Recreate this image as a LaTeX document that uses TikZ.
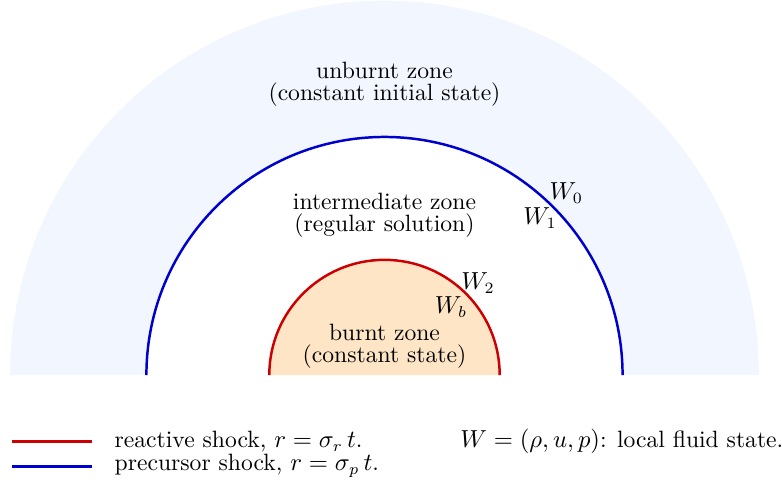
\documentclass[tikz,border=0pt]{standalone}
\usetikzlibrary{positioning}

\definecolor{unburntcol}{RGB}{242,246,254}
\definecolor{burntcol}{RGB}{253,229,197}
\definecolor{reactcol}{RGB}{204,0,0}
\definecolor{precol}{RGB}{0,0,204}

\tikzset{
  every node/.style={font=\fontsize{10.5}{12.6}\selectfont},
  zonelabel/.style={align=center, inner sep=1pt, font=\fontsize{10.5}{9.8}\selectfont},
  shockline/.style={line width=1.1pt},
}

\begin{document}
\begin{tikzpicture}
\useasboundingbox (-6.008,-1.75) rectangle (6.211,5.86);
% zones
\fill[unburntcol] (5.85,0) arc (0:180:5.85) -- cycle;
\fill[white] (3.72,0) arc (0:180:3.72) -- cycle;
\fill[burntcol] (1.80,0) arc (0:180:1.80) -- cycle;
% shocks
\draw[shockline, precol] (3.72,0) arc (0:180:3.72);
\draw[shockline, reactcol] (1.80,0) arc (0:180:1.80);
% labels
\node[zonelabel] (unburnt) at (0,4.55) {unburnt zone\\(constant initial state)};
\node[zonelabel] (inter) at (0,2.5) {intermediate zone\\(regular solution)};
\node[zonelabel] (burnt) at (0,0.45) {burnt zone\\(constant state)};
\node (w0) at (2.84,2.84) {$W_0$};
\node (w1) at (2.43,2.45) {$W_1$};
\node (w2) at (1.46,1.44) {$W_2$};
\node (wb) at (1.04,1.06) {$W_b$};
% legend
\coordinate (ra) at (-5.82,-1.04);
\coordinate (rb) at (-4.57,-1.04);
\coordinate (pa) at (-5.82,-1.43);
\coordinate (pb) at (-4.57,-1.43);
\draw[shockline, reactcol] (ra) -- (rb);
\draw[shockline, precol] (pa) -- (pb);
\node[anchor=west] (reactlab) at (-4.34,-1.04) {reactive shock, $r=\sigma_r\,t$.};
\node[anchor=west] (prelab) at (-4.34,-1.42) {precursor shock, $r=\sigma_p\,t$.};
\node[anchor=west] (statelab) at (1.06,-1.04) {$W=(\rho,u,p)$: local fluid state.};
\end{tikzpicture}
\end{document}
